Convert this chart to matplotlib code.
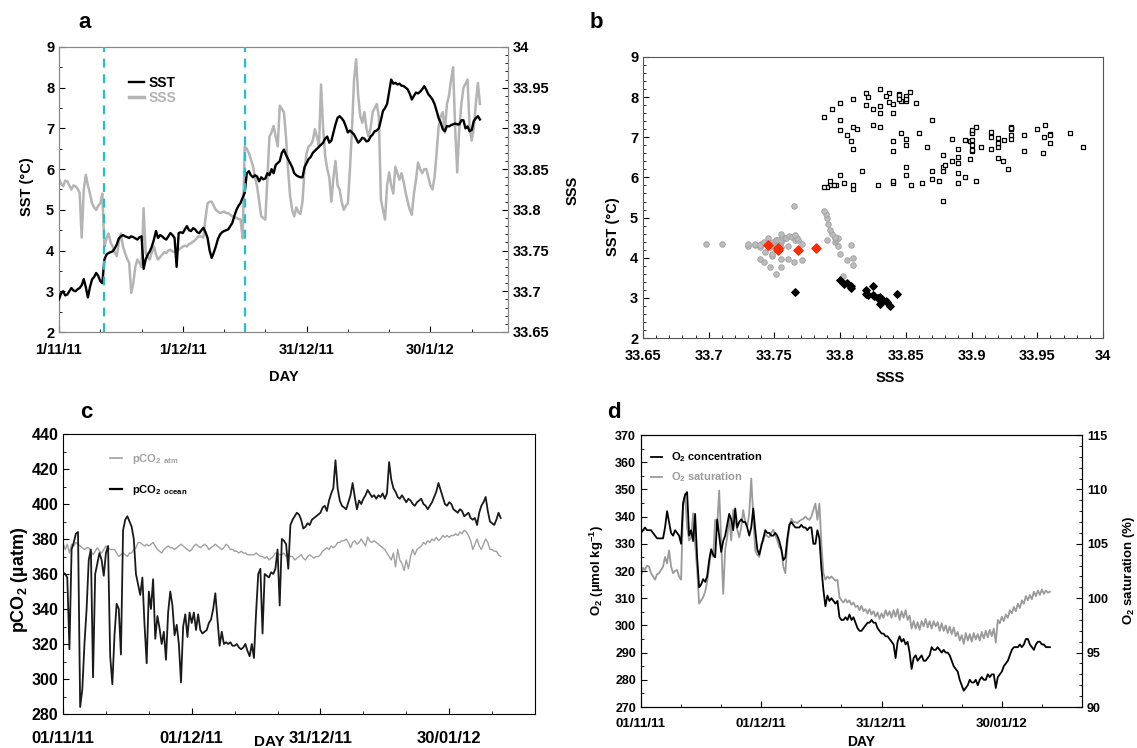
import numpy as np
import matplotlib
matplotlib.use('Agg')
import matplotlib.pyplot as plt
from matplotlib.lines import Line2D
from matplotlib.ticker import MultipleLocator, FixedLocator, FuncFormatter

plt.rcParams['font.family'] = ['Liberation Sans', 'DejaVu Sans']
plt.rcParams['font.weight'] = 'bold'
plt.rcParams['mathtext.fontset'] = 'custom'
plt.rcParams['mathtext.rm'] = 'Liberation Sans:bold'
plt.rcParams['mathtext.bf'] = 'Liberation Sans:bold'
plt.rcParams['mathtext.it'] = 'Liberation Sans:bold'

# ---- data: half-day samples from 1 Nov 2011 ----
sst = [2.8, 2.95, 3.0, 2.9, 2.92, 3.0, 3.08, 3.02, 3.0, 3.05,
       3.08, 3.15, 3.3, 3.1, 2.85, 3.1, 3.29, 3.35, 3.45, 3.38,
       3.25, 3.2, 3.78, 3.9, 3.94, 3.96, 3.98, 4.05, 4.15, 4.3,
       4.35, 4.38, 4.35, 4.33, 4.31, 4.35, 4.33, 4.3, 4.27, 4.33,
       4.35, 3.55, 3.78, 3.9, 3.98, 4.1, 4.27, 4.48, 4.31, 4.38,
       4.35, 4.3, 4.27, 4.35, 4.43, 4.38, 4.31, 3.6, 4.43, 4.45,
       4.43, 4.52, 4.6, 4.5, 4.48, 4.55, 4.52, 4.45, 4.43, 4.5,
       4.56, 4.45, 4.31, 4.0, 3.82, 3.95, 4.1, 4.28, 4.39, 4.45,
       4.48, 4.5, 4.52, 4.6, 4.68, 4.85, 5.0, 5.1, 5.17, 5.3,
       5.42, 5.9, 5.95, 5.85, 5.8, 5.85, 5.82, 5.7, 5.8, 5.75,
       5.77, 5.9, 5.85, 6.0, 5.9, 6.1, 6.15, 6.2, 6.4, 6.48,
       6.35, 6.25, 6.15, 6.05, 5.9, 5.85, 5.82, 5.8, 5.8, 6.05,
       6.15, 6.25, 6.3, 6.4, 6.45, 6.5, 6.55, 6.6, 6.65, 6.75,
       6.8, 6.65, 6.7, 6.9, 7.1, 7.26, 7.3, 7.25, 7.18, 7.05,
       6.9, 6.95, 6.9, 6.85, 6.75, 6.65, 6.7, 6.77, 6.75, 6.68,
       6.7, 6.8, 6.85, 6.93, 6.95, 7.0, 7.2, 7.43, 7.5, 7.6,
       7.9, 8.2, 8.1, 8.12, 8.08, 8.1, 8.05, 8.04, 8.0, 7.96,
       7.85, 7.71, 7.8, 7.88, 7.86, 7.9, 7.96, 8.04, 7.95, 7.84,
       7.78, 7.71, 7.6, 7.43, 7.25, 7.14, 6.98, 6.93, 7.06, 7.05,
       7.08, 7.1, 7.12, 7.1, 7.1, 7.2, 7.2, 7.0, 7.05, 6.93,
       6.96, 7.18, 7.25, 7.3, 7.22]

sss = [33.838, 33.832, 33.829, 33.836, 33.835, 33.83, 33.825, 33.83, 33.829, 33.826,
       33.821, 33.766, 33.825, 33.843, 33.83, 33.82, 33.808, 33.803, 33.8, 33.805,
       33.808, 33.82, 33.755, 33.765, 33.771, 33.76, 33.755, 33.748, 33.743, 33.76,
       33.771, 33.755, 33.747, 33.74, 33.735, 33.698, 33.71, 33.73, 33.739, 33.735,
       33.73, 33.802, 33.747, 33.742, 33.739, 33.748, 33.755, 33.745, 33.739, 33.742,
       33.745, 33.748, 33.747, 33.75, 33.751, 33.749, 33.748, 33.751, 33.751, 33.753,
       33.755, 33.756, 33.755, 33.758, 33.759, 33.761, 33.763, 33.766, 33.768, 33.767,
       33.766, 33.79, 33.808, 33.81, 33.81, 33.805, 33.8, 33.798, 33.796, 33.797,
       33.798, 33.796, 33.796, 33.794, 33.792, 33.791, 33.79, 33.789, 33.788, 33.765,
       33.878, 33.875, 33.87, 33.862, 33.854, 33.84, 33.829, 33.81, 33.792, 33.79,
       33.788, 33.84, 33.89, 33.895, 33.903, 33.89, 33.878, 33.928, 33.924, 33.92,
       33.89, 33.85, 33.817, 33.8, 33.792, 33.803, 33.797, 33.795, 33.81, 33.85,
       33.87, 33.878, 33.88, 33.885, 33.899, 33.89, 33.878, 33.954, 33.9, 33.866,
       33.85, 33.84, 33.81, 33.84, 33.86, 33.83, 33.825, 33.81, 33.8, 33.805,
       33.808, 33.85, 33.899, 33.96, 33.985, 33.94, 33.915, 33.907, 33.92, 33.9,
       33.89, 33.9, 33.92, 33.925, 33.93, 33.915, 33.813, 33.8, 33.788, 33.83,
       33.846, 33.83, 33.82, 33.853, 33.845, 33.837, 33.845, 33.835, 33.821, 33.81,
       33.8, 33.794, 33.82, 33.837, 33.858, 33.85, 33.845, 33.85, 33.85, 33.84,
       33.83, 33.825, 33.84, 33.87, 33.903, 33.915, 33.92, 33.895, 33.93, 33.94,
       33.96, 33.975, 33.9, 33.846, 33.9, 33.93, 33.95, 33.955, 33.96, 33.9,
       33.885, 33.9, 33.93, 33.956, 33.93]

# period boundaries (days) shown as dashed lines in panel a
breaks = [11, 45]

# mean points shown in red on the T-S diagram
red_sss = [33.745, 33.753, 33.753, 33.768, 33.782]
red_sst = [4.32, 4.25, 4.2, 4.2, 4.25]

pco2_ocean = [361, 360, 358, 317, 374, 378, 383, 384, 284, 294,
              320, 340, 368, 374, 301, 360, 366, 372, 368, 359,
              372, 376, 313, 297, 325, 343, 340, 314, 385, 391,
              393, 390, 387, 380, 360, 354, 348, 358, 331, 309,
              350, 340, 357, 323, 336, 329, 320, 327, 311, 338,
              350, 342, 325, 331, 320, 298, 330, 337, 324, 338,
              332, 338, 328, 337, 328, 326, 327, 328, 332, 334,
              340, 349, 334, 319, 327, 320, 321, 320, 321, 319,
              319, 320, 318, 317, 318, 320, 316, 313, 320, 312,
              338, 360, 363, 326, 360, 359, 358, 361, 360, 363,
              374, 342, 380, 379, 377, 363, 388, 391, 393, 395,
              394, 391, 386, 387, 389, 388, 391, 392, 393, 394,
              395, 398, 399, 396, 402, 406, 409, 425, 409, 402,
              399, 398, 397, 401, 405, 412, 404, 397, 402, 400,
              403, 405, 408, 406, 404, 405, 403, 405, 404, 406,
              403, 406, 424, 414, 409, 407, 404, 403, 405, 403,
              401, 403, 402, 400, 399, 401, 402, 403, 400, 399,
              397, 399, 401, 404, 407, 412, 408, 404, 400, 399,
              401, 400, 397, 396, 395, 397, 396, 393, 394, 395,
              392, 391, 392, 388, 395, 399, 401, 404, 396, 390,
              389, 388, 391, 395, 392]

pco2_atm = [378, 374, 377, 372, 377, 376, 378, 377, 376, 375,
            374, 375, 375, 373, 371, 373, 375, 373, 372, 374,
            376, 375, 374, 374, 374, 372, 370, 371, 372, 371,
            370, 372, 372, 374, 375, 378, 378, 377, 376, 377,
            376, 377, 378, 376, 374, 373, 372, 374, 375, 376,
            375, 375, 374, 375, 376, 377, 376, 375, 374, 373,
            374, 376, 377, 376, 375, 376, 377, 376, 374, 375,
            376, 377, 376, 375, 374, 375, 377, 376, 374, 374,
            373, 373, 372, 373, 372, 372, 371, 371, 371, 371,
            372, 371, 370, 370, 369, 370, 368, 369, 370, 372,
            372, 371, 371, 372, 370, 371, 370, 370, 368, 369,
            370, 371, 369, 368, 370, 371, 370, 369, 370, 370,
            371, 373, 374, 375, 374, 376, 375, 376, 378, 378,
            379, 379, 380, 378, 375, 378, 379, 377, 378, 380,
            378, 376, 381, 379, 378, 379, 378, 377, 376, 375,
            374, 372, 370, 368, 372, 364, 374, 368, 366, 362,
            368, 363, 370, 374, 371, 374, 375, 376, 378, 377,
            379, 378, 380, 379, 381, 379, 380, 382, 381, 382,
            381, 382, 382, 383, 382, 384, 383, 385, 384, 382,
            379, 374, 377, 380, 376, 374, 377, 380, 378, 374,
            374, 373, 373, 371, 370]

o2_conc = [334, 335, 336, 335, 335, 335, 334, 333, 332, 332,
           332, 332, 336, 342, 338, 334, 333, 335, 334, 333,
           330, 345, 348, 349, 333, 335, 331, 341, 325, 314,
           315, 317, 316, 318, 324, 328, 326, 325, 339, 333,
           327, 331, 333, 337, 341, 339, 335, 343, 336, 338,
           339, 338, 338, 336, 333, 336, 343, 335, 328, 326,
           329, 332, 335, 334, 334, 333, 333, 334, 333, 331,
           328, 324, 325, 332, 337, 338, 337, 336, 336, 336,
           337, 336, 336, 335, 336, 336, 330, 330, 335, 332,
           321, 313, 307, 311, 309, 310, 309, 308, 309, 303,
           302, 302, 303, 302, 304, 302, 303, 301, 299, 298,
           298, 299, 300, 301, 301, 302, 301, 301, 299, 298,
           297, 297, 296, 296, 295, 294, 293, 288, 294, 296,
           294, 295, 293, 294, 290, 284, 288, 289, 287, 288,
           289, 287, 287, 288, 289, 292, 291, 291, 292, 291,
           290, 291, 290, 290, 289, 287, 285, 284, 283, 280,
           278, 276, 277, 278, 280, 279, 279, 280, 278, 280,
           281, 280, 280, 282, 281, 282, 282, 277, 281, 282,
           283, 285, 286, 287, 289, 291, 292, 292, 292, 293,
           292, 293, 295, 295, 293, 292, 291, 293, 294, 294,
           293, 293, 292, 292, 292]

o2_sat = [102.0, 102.8, 102.6, 103.0, 102.9, 102.3, 102.0, 101.7, 102.2, 102.3,
          102.6, 102.9, 103.8, 103.2, 104.4, 102.9, 102.3, 102.5, 102.6, 102.0,
          101.7, 108.4, 109.6, 106.5, 105.3, 105.6, 107.8, 105.0, 102.6, 99.5,
          99.8, 100.1, 100.6, 101.5, 102.9, 104.4, 103.8, 107.2, 106.6, 109.9,
          105.3, 100.4, 104.5, 105.6, 107.5, 105.3, 108.1, 107.2, 106.3, 105.6,
          106.5, 108.1, 107.0, 106.6, 107.8, 111.0, 107.5, 104.4, 104.0, 103.8,
          105.0, 105.3, 105.9, 105.7, 105.6, 106.0, 106.3, 105.8, 105.3, 104.7,
          104.5, 102.9, 102.3, 105.0, 106.5, 107.3, 107.0, 107.0, 106.9, 107.1,
          107.2, 107.3, 107.5, 107.3, 107.2, 107.5, 108.1, 108.7, 107.2, 108.7,
          105.0, 102.3, 101.7, 102.0, 101.8, 102.0, 101.8, 101.6, 101.7, 100.1,
          99.8, 99.6, 99.9, 99.6, 99.8, 99.4, 99.6, 99.2, 99.3, 98.9,
          99.3, 98.8, 99.0, 98.6, 99.0, 98.5, 98.8, 98.3, 98.7, 98.1,
          98.6, 98.2, 98.9, 98.4, 98.8, 98.2, 98.9, 98.3, 99.0, 98.0,
          98.8, 98.2, 98.9, 98.0, 98.4, 97.2, 97.9, 97.2, 97.8, 97.1,
          97.9, 97.4, 98.1, 97.3, 97.9, 97.2, 97.9, 97.4, 97.8, 97.0,
          97.7, 97.0, 97.5, 96.8, 97.4, 96.7, 97.3, 96.5, 96.9, 96.1,
          96.6, 95.8, 96.8, 96.1, 96.7, 96.0, 96.8, 96.2, 96.7, 96.1,
          96.9, 96.3, 97.0, 96.4, 97.1, 96.5, 97.2, 95.9, 98.0, 97.7,
          98.3, 97.9, 98.5, 98.2, 98.9, 98.6, 99.2, 98.8, 99.5, 99.1,
          99.8, 99.5, 100.2, 99.8, 100.3, 99.9, 100.6, 100.2, 100.7, 100.3,
          100.8, 100.4, 100.7, 100.5, 100.6]

date_ticks = [0, 30, 60, 90]
labels_a = ['1/11/11', '1/12/11', '31/12/11', '30/1/12']
labels_cd = ['01/11/11', '01/12/11', '31/12/11', '30/01/12']

day = np.arange(len(sst)) * 0.5
W, H = 1137, 748
fig = plt.figure(figsize=(W / 100, H / 100), dpi=100)


def box(left, top, right, bottom):
    return [left / W, 1 - bottom / H, (right - left) / W, (bottom - top) / H]


def fmt(v, pos):
    return '%g' % v


def style(ax, color, size):
    for s in ax.spines.values():
        s.set_color(color)
    ax.tick_params(which='both', direction='in', labelsize=size, colors='black')
    ax.tick_params(which='major', length=4)
    ax.tick_params(which='minor', length=2.5)
    for lab in ax.get_xticklabels() + ax.get_yticklabels():
        lab.set_fontweight('bold')


# ---------------- panel a ----------------
ax_a = fig.add_axes(box(59, 47, 508, 332))
ax_a2 = ax_a.twinx()
ax_a2.plot(day, sss, color='#b4b4b4', lw=1.8, zorder=1)
ax_a.plot(day, sst, color='black', lw=1.7, zorder=3)
ax_a.set_zorder(ax_a2.get_zorder() + 1)
ax_a.patch.set_visible(False)
for b in breaks:
    ax_a.axvline(b, color='#22c0c8', ls=(0, (4, 3)), lw=1.6, zorder=4)
ax_a.set_xlim(0, 108.8)
ax_a.set_ylim(2, 9)
ax_a2.set_ylim(33.65, 34)
ax_a.xaxis.set_major_locator(FixedLocator(date_ticks))
ax_a.xaxis.set_minor_locator(MultipleLocator(10))
ax_a.set_xticklabels(labels_a)
ax_a.yaxis.set_minor_locator(MultipleLocator(0.5))
ax_a2.yaxis.set_major_locator(MultipleLocator(0.05))
ax_a2.yaxis.set_minor_locator(MultipleLocator(0.01))
ax_a2.yaxis.set_major_formatter(FuncFormatter(fmt))
style(ax_a, '#888888', 10.5)
style(ax_a2, '#888888', 10.5)
ax_a.tick_params(axis='x', pad=8)
leg_a = ax_a.legend([Line2D([], [], color='black', lw=1.7), Line2D([], [], color='#b4b4b4', lw=2.5)],
                    ['SST', 'SSS'], loc='upper left', bbox_to_anchor=(122 / W, 1 - 69 / H),
                    bbox_transform=fig.transFigure, frameon=False, fontsize=10,
                    handlelength=1.1, handletextpad=0.3, labelspacing=0.1, borderpad=0)
leg_a.get_texts()[1].set_color('#b4b4b4')
fig.text(27 / W, 1 - 187 / H, 'SST (°C)', rotation=90, ha='center', va='center', fontsize=10.5)
fig.text(573 / W, 1 - 190 / H, 'SSS', rotation=90, ha='center', va='center', fontsize=10.5)
fig.text(284 / W, 1 - 377 / H, 'DAY', ha='center', va='center', fontsize=10.5)
fig.text(85 / W, 1 - 23 / H, 'a', ha='center', va='center', fontsize=16)

# ---------------- panel b ----------------
ax_b = fig.add_axes(box(643, 57, 1103, 338))
day_arr = np.array(day)
sst_arr = np.array(sst)
sss_arr = np.array(sss)
p1 = day_arr < breaks[0]
p2 = (day_arr >= breaks[0]) & (day_arr < breaks[1])
p3 = day_arr >= breaks[1]
ax_b.scatter(sss_arr[p2], sst_arr[p2], s=16, color='#bdbdbd', edgecolors='#a0a0a0', linewidths=0.6, zorder=2)
ax_b.scatter(sss_arr[p1], sst_arr[p1], s=14, marker='D', color='black', zorder=3)
ax_b.scatter(sss_arr[p3], sst_arr[p3], s=8, marker='s', facecolors='white', edgecolors='black',
             linewidths=0.9, zorder=3)
ax_b.scatter(red_sss, red_sst, s=22, marker='D', color='#ff2a00', zorder=4)
ax_b.set_xlim(33.65, 34)
ax_b.set_ylim(2, 9)
ax_b.xaxis.set_major_locator(MultipleLocator(0.05))
ax_b.xaxis.set_minor_locator(MultipleLocator(0.01))
ax_b.xaxis.set_major_formatter(FuncFormatter(fmt))
ax_b.yaxis.set_minor_locator(MultipleLocator(0.2))
style(ax_b, '#555555', 10.5)
ax_b.tick_params(axis='x', pad=8)
fig.text(613 / W, 1 - 227 / H, 'SST (°C)', rotation=90, ha='center', va='center', fontsize=10.5)
fig.text(890 / W, 1 - 378 / H, 'SSS', ha='center', va='center', fontsize=10.5)
fig.text(596 / W, 1 - 23 / H, 'b', ha='center', va='center', fontsize=16)

# ---------------- panel c ----------------
ax_c = fig.add_axes(box(63, 434, 535, 714))
ax_c.plot(day, pco2_atm, color='#a0a0a0', lw=1.0, zorder=2)
ax_c.plot(day, pco2_ocean, color='#1a1a1a', lw=1.3, zorder=3)
ax_c.set_xlim(0, 110)
ax_c.set_ylim(280, 440)
ax_c.xaxis.set_major_locator(FixedLocator(date_ticks))
ax_c.xaxis.set_minor_locator(MultipleLocator(10))
ax_c.set_xticklabels(labels_cd)
ax_c.yaxis.set_major_locator(MultipleLocator(20))
ax_c.yaxis.set_minor_locator(MultipleLocator(10))
style(ax_c, 'black', 11.5)
ax_c.tick_params(axis='x', labelsize=12, pad=12)
leg_c = ax_c.legend([Line2D([], [], color='#a0a0a0', lw=1.2), Line2D([], [], color='black', lw=1.6)],
                    [r'pCO$_2$ $_{atm}$', r'pCO$_2$ $_{ocean}$'], loc='upper left',
                    bbox_to_anchor=(104 / W, 1 - 446 / H), bbox_transform=fig.transFigure,
                    frameon=False, fontsize=8, handlelength=1.1, handletextpad=0.9,
                    labelspacing=1.6, borderpad=0)
leg_c.get_texts()[0].set_color('#a0a0a0')
fig.text(20 / W, 1 - 580 / H, r'pCO$_2$ (µatm)', rotation=90, ha='center', va='center', fontsize=13)
fig.text(269 / W, 1 - 742 / H, 'DAY', ha='center', va='center', fontsize=11)
fig.text(86 / W, 1 - 412 / H, 'c', ha='center', va='center', fontsize=16)

# ---------------- panel d ----------------
ax_d = fig.add_axes(box(641, 435, 1082, 707))
ax_d2 = ax_d.twinx()
ax_d2.plot(day, o2_sat, color='#9a9a9a', lw=1.3, zorder=2)
ax_d.plot(day, o2_conc, color='black', lw=1.3, zorder=3)
ax_d.set_zorder(ax_d2.get_zorder() + 1)
ax_d.patch.set_visible(False)
ax_d.set_xlim(0, 110)
ax_d.set_ylim(270, 370)
ax_d2.set_ylim(90, 115)
ax_d.xaxis.set_major_locator(FixedLocator(date_ticks))
ax_d.xaxis.set_minor_locator(MultipleLocator(10))
ax_d.set_xticklabels(labels_cd)
ax_d.yaxis.set_major_locator(MultipleLocator(10))
ax_d.yaxis.set_minor_locator(MultipleLocator(5))
ax_d2.yaxis.set_major_locator(MultipleLocator(5))
ax_d2.yaxis.set_minor_locator(MultipleLocator(1))
style(ax_d, 'black', 9)
style(ax_d2, 'black', 9)
ax_d.tick_params(axis='x', labelsize=9.5, pad=8)
leg_d = ax_d.legend([Line2D([], [], color='black', lw=1.3), Line2D([], [], color='#9a9a9a', lw=1.3)],
                    [r'O$_2$ concentration', r'O$_2$ saturation'], loc='upper left',
                    bbox_to_anchor=(645 / W, 1 - 445 / H), bbox_transform=fig.transFigure,
                    frameon=False, fontsize=8, handlelength=1.0, handletextpad=0.8,
                    labelspacing=0.55, borderpad=0)
leg_d.get_texts()[1].set_color('#9a9a9a')
fig.text(597 / W, 1 - 570 / H, r'O$_2$ (µmol kg$^{-1}$)', rotation=90, ha='center', va='center', fontsize=9.5)
fig.text(1129 / W, 1 - 570 / H, r'O$_2$ saturation (%)', rotation=90, ha='center', va='center', fontsize=9.5)
fig.text(861 / W, 1 - 742 / H, 'DAY', ha='center', va='center', fontsize=10)
fig.text(614 / W, 1 - 412 / H, 'd', ha='center', va='center', fontsize=16)

fig.savefig('out.png', dpi=100)
